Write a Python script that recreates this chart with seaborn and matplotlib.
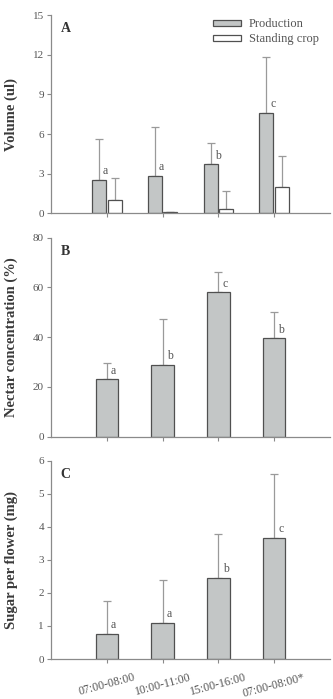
import numpy as np
import pandas as pd
import matplotlib
matplotlib.use("Agg")
import matplotlib.pyplot as plt
import seaborn as sns

# ---------------- data ----------------
periods = ["07:00-08:00", "10:00-11:00", "15:00-16:00", "07:00-08:00*"]
series = ["Production", "Standing crop"]

vol_production = [2.55, 2.85, 3.7, 7.6]
vol_production_sd = [3.1, 3.7, 1.65, 4.2]
vol_standing = [1.0, 0.08, 0.3, 2.0]
vol_standing_sd = [1.7, 0.04, 1.4, 2.35]
vol_letters = ["a", "a", "b", "c"]

conc = [23.0, 29.0, 58.0, 39.5]
conc_sd = [6.5, 18.5, 8.0, 10.5]
conc_letters = ["a", "b", "c", "b"]

sugar = [0.75, 1.1, 2.45, 3.67]
sugar_sd = [1.0, 1.3, 1.33, 1.93]
sugar_letters = ["a", "a", "b", "c"]

# ---------------- style ----------------
sns.set_theme(style="ticks")
plt.rcParams["font.family"] = ["Liberation Serif", "DejaVu Serif"]
TXT = "#555555"
SPINE = "#8a8a8a"
FILL = "#c3c6c6"
EDGE = "#505050"
ERR = "#9a9a9a"

fig = plt.figure(figsize=(3.33, 6.99), dpi=100)
L, W = 0.153, 0.838
axA = fig.add_axes([L, 0.6948, W, 0.2837])
axB = fig.add_axes([L, 0.3753, W, 0.2847])
axC = fig.add_axes([L, 0.0572, W, 0.2837])


def add_errors(ax, container, sds):
    xs = [b.get_x() + b.get_width() / 2 for b in container]
    ys = [b.get_height() for b in container]
    ax.errorbar(xs, ys, yerr=[np.zeros(len(sds)), sds], fmt="none",
                ecolor=ERR, elinewidth=0.9, capsize=2.8, capthick=0.9, zorder=1)


def add_letters(ax, container, letters):
    for b, lab in zip(container, letters):
        ax.annotate(lab, (b.get_x() + b.get_width() / 2, b.get_height()),
                    xytext=(3, 2), textcoords="offset points",
                    ha="left", va="bottom", fontsize=8.5, color=TXT)


def style(ax, yticks, ylabel, letter):
    sns.despine(ax=ax)
    ax.set_xlim(-1, 4)
    ax.set_ylim(yticks[0], yticks[-1])
    ax.set_yticks(yticks)
    ax.set_xlabel("")
    ax.set_ylabel(ylabel, fontsize=10.5, fontweight="bold", color="#3a3a3a")
    ax.yaxis.set_label_coords(-0.118, 0.5)
    for s in ["left", "bottom"]:
        ax.spines[s].set_color(SPINE)
        ax.spines[s].set_linewidth(0.9)
    ax.tick_params(axis="both", colors=SPINE, labelcolor=TXT, labelsize=8,
                   length=3, width=0.8, pad=2)
    ax.text(0.035, 0.965, letter, transform=ax.transAxes, ha="left", va="top",
            fontsize=10, fontweight="bold", color="#333333")


# ---------------- panel A ----------------
dfA = pd.DataFrame({
    "period": periods * 2,
    "series": [series[0]] * 4 + [series[1]] * 4,
    "value": vol_production + vol_standing,
})
sns.barplot(data=dfA, x="period", y="value", hue="series", order=periods,
            hue_order=series, palette={series[0]: FILL, series[1]: "white"},
            edgecolor=EDGE, linewidth=0.9, width=0.56, gap=0.1,
            errorbar=None, ax=axA, zorder=2)
add_errors(axA, axA.containers[0], vol_production_sd)
add_errors(axA, axA.containers[1], vol_standing_sd)
add_letters(axA, axA.containers[0], vol_letters)
style(axA, [0, 3, 6, 9, 12, 15], "Volume (ul)", "A")
axA.set_xticklabels([])
leg = axA.legend(loc="upper right", bbox_to_anchor=(1.0, 1.04), frameon=False,
                 fontsize=9, handlelength=2.3, handleheight=0.45,
                 handletextpad=0.6, labelspacing=0.25, title=None)
for t in leg.get_texts():
    t.set_color(TXT)

# ---------------- panel B ----------------
sns.barplot(x=periods, y=conc, order=periods, color=FILL, edgecolor=EDGE,
            linewidth=0.9, width=0.4, errorbar=None, ax=axB, zorder=2)
add_errors(axB, axB.containers[0], conc_sd)
add_letters(axB, axB.containers[0], conc_letters)
style(axB, [0, 20, 40, 60, 80], "Nectar concentration (%)", "B")
axB.set_xticklabels([])

# ---------------- panel C ----------------
sns.barplot(x=periods, y=sugar, order=periods, color=FILL, edgecolor=EDGE,
            linewidth=0.9, width=0.4, errorbar=None, ax=axC, zorder=2)
add_errors(axC, axC.containers[0], sugar_sd)
add_letters(axC, axC.containers[0], sugar_letters)
style(axC, [0, 1, 2, 3, 4, 5, 6], "Sugar per flower (mg)", "C")
axC.set_xticks(range(len(periods)))
axC.set_xticklabels(periods, rotation=15, ha="center", fontsize=8.5)
axC.tick_params(axis="x", pad=6)

fig.savefig("out.png", dpi=100)
